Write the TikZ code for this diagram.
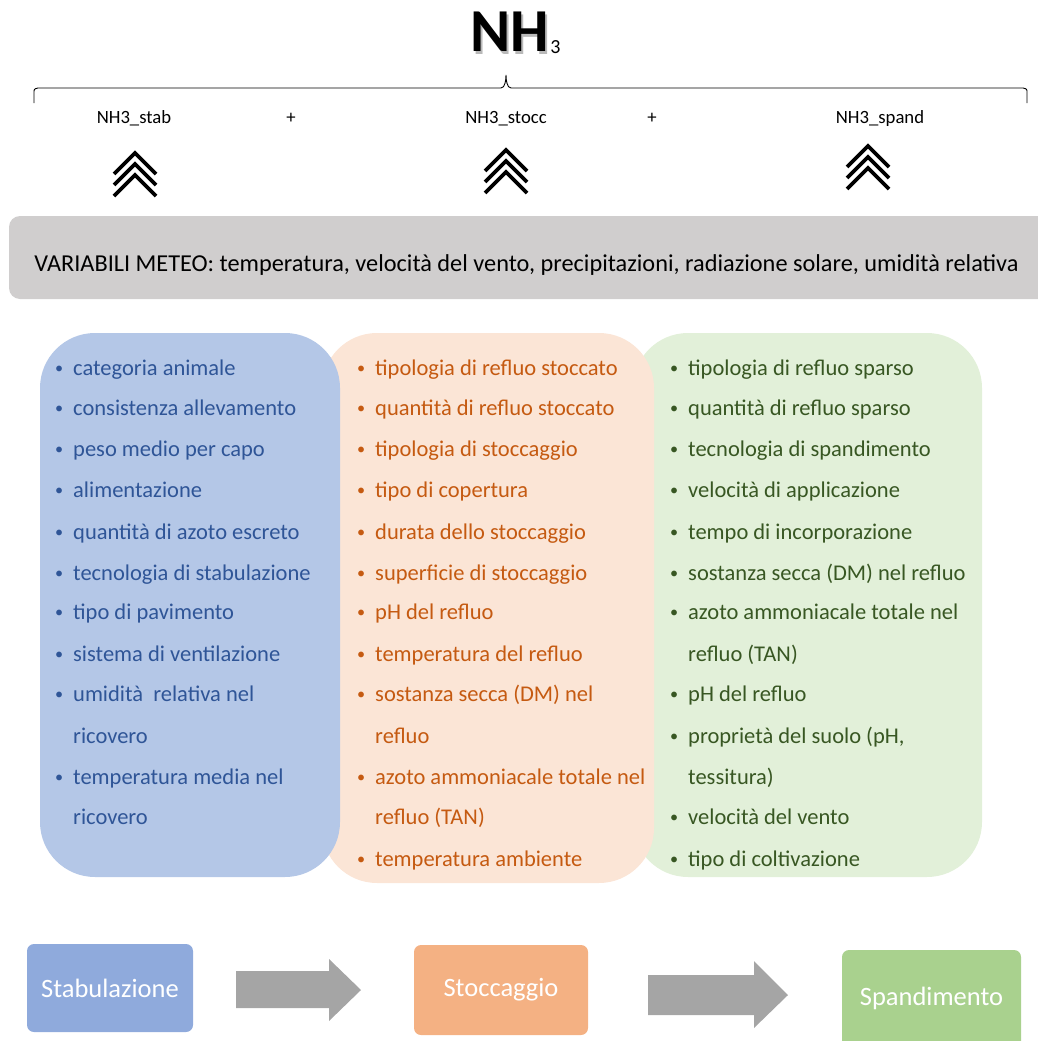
\documentclass[tikz,border=0pt]{standalone}
\usepackage{fontspec}
\setmainfont{Carlito}
\definecolor{bluebox}{HTML}{B4C7E7}
\definecolor{bluetxt}{HTML}{2F5597}
\definecolor{peachbox}{HTML}{FBE5D6}
\definecolor{peachtxt}{HTML}{C55A11}
\definecolor{greenbox}{HTML}{E2F0D9}
\definecolor{greentxt}{HTML}{385723}
\definecolor{graybar}{HTML}{D0CECE}
\definecolor{stabcol}{HTML}{8FAADC}
\definecolor{stoccol}{HTML}{F4B183}
\definecolor{spancol}{HTML}{A9D18E}
\definecolor{arrowcol}{HTML}{A5A5A5}
\newcommand\bitem[4]{\node[item,#1] (#2) at (#3) {\llap{\makebox[18pt][l]{\raisebox{1.5pt}{\scalebox{0.72}{\textbullet}}}}#4};}
\newcommand\citem[4]{\node[item,#1] (#2) at (#3) {#4};}
\begin{document}
\begin{tikzpicture}[x=1pt,y=-1pt,
  item/.style={anchor=base west,inner sep=0pt,font=\fontsize{22.5}{22.5}\selectfont},
  bl/.style={text=bluetxt},
  pc/.style={text=peachtxt},
  gr/.style={text=greentxt},
  lbl/.style={anchor=base,inner sep=0pt,font=\fontsize{18.7}{18.7}\selectfont},
  chev/.style={line width=3.8pt,miter limit=10},
  stagebox/.style={rounded corners=7pt,inner sep=0pt,text=white,font=\fontsize{26.5}{26.5}\selectfont},
  blockarrow/.style={fill=arrowcol,draw=none}]
\path[use as bounding box,clip] (0,0) rectangle (1038,1041);
% title
\node[anchor=base west,inner sep=0pt,font=\fontsize{61}{61}\selectfont\bfseries,text=gray!55] (nhs) at (472.5,54.5) {NH};
\node[anchor=base west,inner sep=0pt,font=\fontsize{61}{61}\selectfont\bfseries] (nh) at (470,52) {NH};
\node[anchor=base west,inner sep=0pt,font=\fontsize{20}{20}\selectfont] (sub3) at ([xshift=1pt,yshift=-2pt]nh.base east) {3};
% brace
\draw[line width=0.9pt] (34,103) -- (34,93) .. controls (34,89) .. (38,88) -- (501,88)
  .. controls (505,88) and (506,80) .. (506,75) .. controls (506,80) and (507,88) .. (511,88)
  -- (1023,88) .. controls (1027,89) .. (1027,93) -- (1027,103);
% labels
\node[lbl] (stab) at (134,123) {NH3\_stab};
\node[lbl] (p1) at (291,123) {+};
\node[lbl] (stocc) at (506,123) {NH3\_stocc};
\node[lbl] (p2) at (652,123) {+};
\node[lbl] (spand) at (880,123) {NH3\_spand};
% chevrons
\foreach \cx/\ay in {135/153, 506/150, 868/146}{
  \foreach \k in {0,1,2}{
    \draw[chev] (\cx-21,\ay+\k*11+21) -- (\cx,\ay+\k*11) -- (\cx+21,\ay+\k*11+21);
  }
}
% meteo bar
\fill[graybar,rounded corners=11pt] (9,216) rectangle (1060,299);
\node[anchor=base,inner sep=0pt,font=\fontsize{24.3}{24.3}\selectfont] (meteo) at (526.5,271)
  {VARIABILI METEO: temperatura, velocità del vento, precipitazioni, radiazione solare, umidità relativa};
% boxes
\fill[greenbox,rounded corners=55pt] (633,333) rectangle (982,877);
\fill[peachbox,rounded corners=55pt] (322,333) rectangle (654,883);
\fill[bluebox,rounded corners=55pt] (40,333) rectangle (340,877);
% blue list
\bitem{bl}{b1}{73,375}{categoria animale}
\bitem{bl}{b2}{73,415}{consistenza allevamento}
\bitem{bl}{b3}{73,456}{peso medio per capo}
\bitem{bl}{b4}{73,497}{alimentazione}
\bitem{bl}{b5}{73,539}{quantità di azoto escreto}
\bitem{bl}{b6}{73,580}{tecnologia di stabulazione}
\bitem{bl}{b7}{73,619}{tipo di pavimento}
\bitem{bl}{b8}{73,661}{sistema di ventilazione}
\bitem{bl}{b9}{73,701}{umidità\ \ relativa nel}
\citem{bl}{b9b}{73,743}{ricovero}
\bitem{bl}{b10}{73,784}{temperatura media nel}
\citem{bl}{b10b}{73,824}{ricovero}
% peach list
\bitem{pc}{c1}{375,375}{tipologia di refluo stoccato}
\bitem{pc}{c2}{375,415}{quantità di refluo stoccato}
\bitem{pc}{c3}{375,456}{tipologia di stoccaggio}
\bitem{pc}{c4}{375,497}{tipo di copertura}
\bitem{pc}{c5}{375,539}{durata dello stoccaggio}
\bitem{pc}{c6}{375,580}{superficie di stoccaggio}
\bitem{pc}{c7}{375,619}{pH del refluo}
\bitem{pc}{c8}{375,661}{temperatura del refluo}
\bitem{pc}{c9}{375,701}{sostanza secca (DM) nel}
\citem{pc}{c9b}{375,743}{refluo}
\bitem{pc}{c10}{375,784}{azoto ammoniacale totale nel}
\citem{pc}{c10b}{375,824}{refluo (TAN)}
\bitem{pc}{c11}{375,866}{temperatura ambiente}
% green list
\bitem{gr}{g1}{688,375}{tipologia di refluo sparso}
\bitem{gr}{g2}{688,415}{quantità di refluo sparso}
\bitem{gr}{g3}{688,456}{tecnologia di spandimento}
\bitem{gr}{g4}{688,497}{velocità di applicazione}
\bitem{gr}{g5}{688,539}{tempo di incorporazione}
\bitem{gr}{g6}{688,580}{sostanza secca (DM) nel refluo}
\bitem{gr}{g7}{688,619}{azoto ammoniacale totale nel}
\citem{gr}{g7b}{688,661}{refluo (TAN)}
\bitem{gr}{g8}{688,701}{pH del refluo}
\bitem{gr}{g9}{688,743}{proprietà del suolo (pH,}
\citem{gr}{g9b}{688,784}{tessitura)}
\bitem{gr}{g10}{688,824}{velocità del vento}
\bitem{gr}{g11}{688,866}{tipo di coltivazione}
% stage boxes
\node[stagebox,fill=stabcol,minimum width=166pt,minimum height=88pt] (sstab) at (110,988) {Stabulazione};
\node[stagebox,fill=stoccol,minimum width=174pt,minimum height=90pt] (sstoc) at (501,990) {Stoccaggio};
\fill[spancol,rounded corners=7pt] (842,950) rectangle (1021,1060);
\node[inner sep=0pt,text=white,font=\fontsize{26.5}{26.5}\selectfont] (sspan) at (931.5,998) {Spandimento};
% block arrows
\fill[blockarrow] (236,971) -- (329,971) -- (329,959) -- (361,990) -- (329,1021) -- (329,1008) -- (236,1008) -- cycle;
\fill[blockarrow] (648,975) -- (754,975) -- (754,961) -- (788,995) -- (754,1028) -- (754,1015) -- (648,1015) -- cycle;
\end{tikzpicture}
\end{document}
